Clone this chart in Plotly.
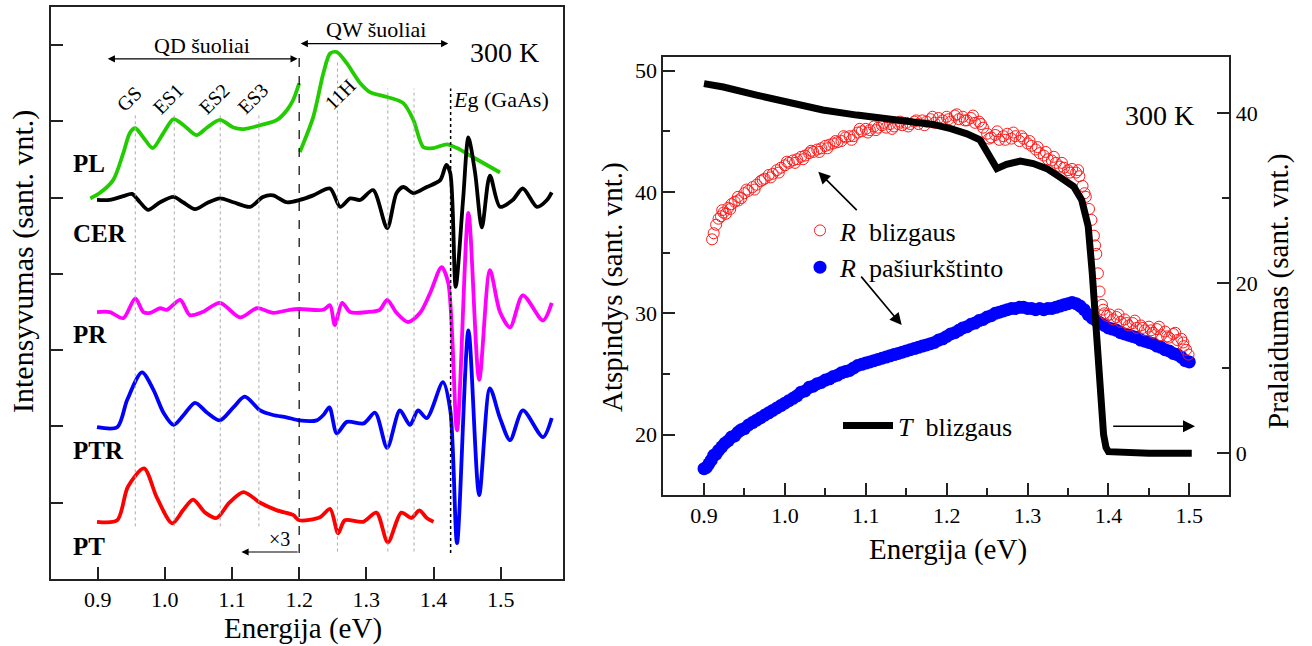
import plotly.graph_objects as go

FONT = "Liberation Serif"

# ---------------- Left panel: spectra (offset, arbitrary units) ----------------
pl_lo_e = [0.889, 0.903, 0.923, 0.938, 0.948, 0.956, 0.968, 0.982, 0.998, 1.013, 1.028, 1.047,
           1.063, 1.082, 1.102, 1.117, 1.142, 1.167, 1.182, 1.191, 1.2]
pl_lo_i = [4.99, 5.06, 5.23, 5.58, 5.85, 5.91, 5.79, 5.65, 5.85, 6.03, 5.95, 5.82,
           5.92, 6.02, 5.92, 5.90, 5.95, 6.02, 6.15, 6.28, 6.50]
pl_hi_e = [1.201, 1.221, 1.236, 1.246, 1.256, 1.271, 1.291, 1.306, 1.331, 1.355, 1.37, 1.385,
           1.4, 1.42, 1.435, 1.459, 1.499]
pl_hi_i = [5.60, 6.06, 6.63, 6.89, 6.91, 6.76, 6.50, 6.38, 6.32, 6.24, 6.02, 5.66,
           5.65, 5.70, 5.65, 5.53, 5.33]

cer_e = [0.899, 0.918, 0.938, 0.951, 0.963, 0.975, 0.993, 1.013, 1.027, 1.045, 1.063, 1.082,
         1.102, 1.127, 1.146, 1.161, 1.181, 1.201, 1.221, 1.246, 1.261, 1.276, 1.291, 1.31,
         1.331, 1.345, 1.355, 1.37, 1.39, 1.41, 1.419, 1.425, 1.433, 1.444, 1.452, 1.462,
         1.472, 1.484, 1.499, 1.518, 1.533, 1.554, 1.569, 1.576]
cer_i = [4.97, 4.97, 5.02, 5.05, 4.94, 4.84, 4.94, 5.01, 4.94, 4.85, 4.93, 4.99,
         4.94, 4.88, 5.01, 5.03, 4.94, 4.97, 5.03, 5.12, 4.88, 4.99, 4.97, 5.10,
         4.60, 5.06, 5.14, 5.06, 5.14, 5.23, 5.43, 5.32, 3.83, 4.97, 5.79, 5.32,
         4.61, 5.29, 4.88, 4.97, 5.12, 4.88, 4.97, 5.07]

pr_e = [0.899, 0.918, 0.938, 0.956, 0.968, 0.978, 0.993, 1.003, 1.023, 1.037, 1.056, 1.082,
        1.112, 1.137, 1.161, 1.186, 1.2, 1.236, 1.246, 1.253, 1.264, 1.276, 1.301, 1.32,
        1.331, 1.345, 1.362, 1.38, 1.395, 1.412, 1.422, 1.435, 1.452, 1.468, 1.484, 1.499,
        1.514, 1.533, 1.563, 1.576]
pr_i = [3.50, 3.50, 3.42, 3.68, 3.50, 3.49, 3.55, 3.53, 3.66, 3.46, 3.50, 3.62,
        3.43, 3.55, 3.49, 3.53, 3.54, 3.53, 3.59, 3.33, 3.62, 3.50, 3.50, 3.53,
        3.66, 3.49, 3.37, 3.49, 3.75, 4.09, 3.88, 1.95, 4.80, 2.61, 4.05, 3.50,
        3.30, 3.72, 3.39, 3.62]

ptr_e = [0.899, 0.929, 0.944, 0.966, 0.983, 0.998, 1.013, 1.028, 1.045, 1.063, 1.082, 1.102,
         1.119, 1.142, 1.161, 1.181, 1.2, 1.226, 1.236, 1.245, 1.256, 1.271, 1.296, 1.313,
         1.331, 1.35, 1.365, 1.377, 1.39, 1.414, 1.425, 1.435, 1.452, 1.468, 1.484, 1.499,
         1.514, 1.533, 1.563, 1.576]
ptr_i = [1.99, 1.99, 2.35, 2.71, 2.48, 2.18, 2.02, 2.15, 2.31, 2.18, 2.08, 2.25,
         2.39, 2.21, 2.15, 2.12, 2.08, 2.08, 2.15, 2.25, 1.91, 2.06, 2.04, 2.18,
         1.72, 2.21, 2.02, 2.21, 2.11, 2.58, 2.21, 0.47, 3.26, 1.10, 2.50, 2.11,
         1.82, 2.21, 1.86, 2.11]

pt_e = [0.899, 0.929, 0.945, 0.969, 0.988, 1.011, 1.027, 1.042, 1.06, 1.077, 1.096, 1.117,
        1.142, 1.167, 1.191, 1.2, 1.231, 1.246, 1.258, 1.268, 1.295, 1.315, 1.332, 1.352,
        1.367, 1.379, 1.39, 1.4]
pt_i = [0.75, 0.77, 1.21, 1.45, 1.07, 0.73, 0.90, 1.04, 0.87, 0.80, 1.00, 1.14,
        1.00, 0.90, 0.84, 0.77, 0.81, 0.92, 0.60, 0.77, 0.75, 0.87, 0.48, 0.87,
        0.80, 0.90, 0.80, 0.75]

spectra_names = ["PL", "CER", "PR", "PTR", "PT"]
label_levels = [5.45, 4.53, 3.20, 1.69, 0.43]

qd_lines = [0.956, 1.014, 1.0825, 1.14]
qd_labels = ["GS", "ES1", "ES2", "ES3"]
qw_lines = [1.257, 1.332, 1.371]
qw_label = "11H"
eg_energy = 1.4255
split_energy = 1.2

# ---------------- Right panel: reflectance / transmittance ----------------
rb_e = [0.910, 0.912, 0.915, 0.918, 0.921, 0.924, 0.927, 0.930, 0.934, 0.938, 0.942, 0.946,
        0.950, 0.955, 0.960, 0.965, 0.970, 0.975, 0.980, 0.985, 0.990, 0.995, 1.000, 1.005,
        1.010, 1.015, 1.020, 1.025, 1.030, 1.035, 1.040, 1.045, 1.050, 1.055, 1.060, 1.065,
        1.070, 1.075, 1.080, 1.085, 1.090, 1.095, 1.100, 1.105, 1.110, 1.115, 1.120, 1.125,
        1.130, 1.135, 1.140, 1.145, 1.150, 1.155, 1.160, 1.165, 1.170, 1.175, 1.180, 1.185,
        1.190, 1.195, 1.200, 1.205, 1.210, 1.215, 1.220, 1.225, 1.230, 1.235, 1.240, 1.245,
        1.250, 1.255, 1.260, 1.265, 1.270, 1.275, 1.280, 1.285, 1.290, 1.295, 1.300, 1.305,
        1.310, 1.315, 1.320, 1.325, 1.330, 1.335, 1.340, 1.345, 1.350, 1.355, 1.360, 1.364,
        1.368, 1.372, 1.376, 1.379, 1.382, 1.385, 1.387, 1.389, 1.392, 1.395, 1.398, 1.402,
        1.406, 1.410, 1.415, 1.420, 1.425, 1.430, 1.435, 1.440, 1.445, 1.450, 1.455, 1.460,
        1.465, 1.470, 1.475, 1.480, 1.485, 1.490, 1.493, 1.496, 1.499,
        0.9225, 0.9325, 0.9425, 0.9525, 0.9625, 0.9725, 0.9825, 0.9925, 1.0025, 1.0125,
        1.0225, 1.0325, 1.0425, 1.0525, 1.0625, 1.0725, 1.0825, 1.0925, 1.1025, 1.1125,
        1.1225, 1.1325, 1.1425, 1.1525, 1.1625, 1.1725, 1.1825, 1.1925, 1.2025, 1.2125,
        1.2225, 1.2325, 1.2425, 1.2525, 1.2625, 1.2725, 1.2825, 1.2925, 1.3025, 1.3125,
        1.3225, 1.3325, 1.3425, 1.3525, 1.3625, 1.3705, 1.3835, 1.3935, 1.4125, 1.4225,
        1.4325, 1.4425, 1.4525, 1.4625, 1.4725, 1.4825, 1.4925]
rb_r = [36.1, 36.6, 37.3, 37.8, 38.0, 38.3, 38.2, 38.7, 39.0, 39.2, 39.6, 39.5,
        39.9, 40.1, 40.4, 40.6, 40.9, 41.1, 41.4, 41.5, 41.8, 42.0, 42.2, 42.4,
        42.6, 42.7, 42.9, 43.0, 43.2, 43.3, 43.5, 43.6, 43.8, 43.9, 44.0, 44.1,
        44.2, 44.5, 44.6, 44.6, 44.9, 45.0, 45.2, 45.1, 45.4, 45.3, 45.5, 45.3,
        45.6, 45.4, 45.6, 45.5, 45.7, 45.6, 45.8, 45.6, 45.9, 45.8, 46.0, 45.7,
        46.1, 45.9, 46.2, 45.8, 46.3, 46.0, 46.2, 45.9, 46.1, 45.7, 45.8, 45.3,
        44.8, 44.5, 44.7, 44.3, 44.6, 44.8, 44.4, 44.6, 44.2, 44.4, 44.0, 43.8,
        43.5, 43.2, 43.0, 42.7, 42.6, 42.4, 42.1, 42.0, 41.8, 41.9, 41.6, 41.3,
        40.5, 39.6, 38.6, 37.7, 36.4, 34.9, 33.3, 31.8, 30.7, 30.0, 29.8, 29.9,
        29.5, 29.7, 29.3, 29.5, 29.0, 29.2, 28.8, 29.0, 28.6, 28.9, 28.4, 28.7,
        28.2, 28.5, 28.0, 28.3, 27.8, 27.9, 27.3, 27.0, 26.6,
        38.5, 38.6, 39.3, 40.2, 40.2, 41.0, 41.2, 41.6, 42.5, 42.4,
        42.7, 43.4, 43.3, 43.6, 44.2, 44.6, 44.3, 45.2, 44.9, 45.1,
        45.7, 45.2, 45.8, 45.4, 45.9, 45.5, 46.2, 45.7, 46.0, 46.4,
        45.9, 46.3, 45.6, 44.4, 45.0, 44.3, 44.9, 44.6, 44.2, 43.7,
        43.3, 42.9, 42.4, 41.6, 41.8, 39.9, 35.6, 30.3, 29.9, 29.2,
        29.4, 28.8, 28.6, 28.9, 28.1, 28.4, 27.6]

rp_e = [0.900, 0.903, 0.906, 0.909, 0.912, 0.915, 0.918, 0.922, 0.926, 0.930, 0.934, 0.938,
        0.942, 0.946, 0.950, 0.955, 0.960, 0.965, 0.970, 0.975, 0.980, 0.985, 0.990, 0.995,
        1.000, 1.005, 1.010, 1.015, 1.020, 1.025, 1.030, 1.035, 1.040, 1.045, 1.050, 1.055,
        1.060, 1.065, 1.070, 1.075, 1.080, 1.085, 1.090, 1.095, 1.100, 1.105, 1.110, 1.115,
        1.120, 1.125, 1.130, 1.135, 1.140, 1.145, 1.150, 1.155, 1.160, 1.165, 1.170, 1.175,
        1.180, 1.185, 1.190, 1.195, 1.200, 1.205, 1.210, 1.215, 1.220, 1.225, 1.230, 1.235,
        1.240, 1.245, 1.250, 1.255, 1.260, 1.265, 1.270, 1.275, 1.280, 1.285, 1.290, 1.295,
        1.300, 1.305, 1.310, 1.315, 1.320, 1.325, 1.330, 1.335, 1.340, 1.345, 1.350, 1.355,
        1.360, 1.365, 1.370, 1.375, 1.380, 1.385, 1.390, 1.395, 1.400, 1.405, 1.410, 1.415,
        1.420, 1.425, 1.430, 1.435, 1.440, 1.445, 1.450, 1.455, 1.460, 1.465, 1.470, 1.475,
        1.480, 1.485, 1.490, 1.495, 1.500]
rp_r = [17.2, 17.3, 17.6, 17.9, 18.3, 18.4, 18.7, 19.0, 19.3, 19.5, 19.8, 19.9,
        20.2, 20.4, 20.5, 20.8, 21.0, 21.2, 21.4, 21.6, 21.8, 22.0, 22.2, 22.4,
        22.6, 22.8, 23.0, 23.2, 23.5, 23.6, 23.9, 24.0, 24.2, 24.3, 24.5, 24.6,
        24.8, 24.9, 25.1, 25.2, 25.3, 25.5, 25.7, 25.8, 25.9, 26.0, 26.1, 26.2,
        26.3, 26.4, 26.5, 26.6, 26.7, 26.8, 26.9, 27.0, 27.1, 27.2, 27.3, 27.4,
        27.5, 27.6, 27.8, 27.9, 28.1, 28.3, 28.4, 28.6, 28.8, 28.9, 29.1, 29.2,
        29.4, 29.5, 29.7, 29.8, 30.0, 30.1, 30.2, 30.3, 30.4, 30.4, 30.5, 30.5,
        30.4, 30.4, 30.3, 30.4, 30.3, 30.4, 30.4, 30.5, 30.6, 30.7, 30.8, 30.9,
        30.8, 30.6, 30.3, 29.9, 29.6, 29.4, 29.2, 29.0, 28.8, 28.7, 28.6, 28.4,
        28.3, 28.2, 28.1, 28.0, 27.8, 27.7, 27.6, 27.5, 27.3, 27.2, 27.0, 26.9,
        26.7, 26.6, 26.4, 26.1, 26.0]

tb_e = [0.900, 0.924, 0.965, 1.006, 1.047, 1.089, 1.130, 1.171, 1.183, 1.205, 1.225, 1.241,
        1.251, 1.262, 1.274, 1.291, 1.307, 1.324, 1.340, 1.357, 1.367, 1.375, 1.380, 1.385,
        1.389, 1.392, 1.394, 1.397, 1.400, 1.450, 1.503]
tb_t = [43.5, 43.1, 42.15, 41.2, 40.4, 39.8, 39.4, 39.0, 38.7, 38.2, 37.6, 36.9,
        35.3, 33.5, 34.0, 34.4, 34.1, 33.5, 32.5, 31.4, 29.8, 26.7, 21.2, 14.1,
        10.2, 4.3, 2.2, 0.7, 0.2, 0.0, 0.0]

# ---------------- Figure ----------------
fig = go.Figure()

line_w = 3.8
left_traces = [
    (pt_e, pt_i, "#ff0000", "PT"),
    (ptr_e, ptr_i, "#0000ff", "PTR"),
    (pr_e, pr_i, "#ff00ff", "PR"),
    (pl_lo_e, pl_lo_i, "#22cc00", "PL"),
    (pl_hi_e, pl_hi_i, "#22cc00", "PL"),
    (cer_e, cer_i, "#000000", "CER"),
]
for xs, ys, col, nm in left_traces:
    fig.add_trace(go.Scatter(x=xs, y=ys, mode="lines", name=nm, showlegend=False,
                             line=dict(color=col, width=line_w, shape="spline", smoothing=0.8),
                             xaxis="x", yaxis="y"))

fig.add_trace(go.Scatter(x=rp_e, y=rp_r, mode="markers", name="<i>R</i>\u00a0 pašiurkštinto",
                         legend="legend", legendrank=2,
                         marker=dict(symbol="circle", size=13, color="#0000ff"),
                         xaxis="x2", yaxis="y2"))
fig.add_trace(go.Scatter(x=rb_e, y=rb_r, mode="markers", name="<i>R</i>\u00a0 blizgaus",
                         legend="legend", legendrank=1,
                         marker=dict(symbol="circle-open", size=11, color="#ff1a1a",
                                     line=dict(width=1)),
                         xaxis="x2", yaxis="y2"))
fig.add_trace(go.Scatter(x=tb_e, y=tb_t, mode="lines", name="<i>T</i>\u00a0 blizgaus",
                         legend="legend2",
                         line=dict(color="#000000", width=7),
                         xaxis="x2", yaxis="y3"))

# ---------------- Shapes (left panel guide lines) ----------------
shapes = []
for e in qd_lines:
    shapes.append(dict(type="line", xref="x", yref="y", x0=e, x1=e, y0=0.69, y1=6.1,
                       line=dict(color="#aaaaaa", width=1, dash="dot")))
for i, e in enumerate(qw_lines):
    shapes.append(dict(type="line", xref="x", yref="y", x0=e, x1=e, y0=0.36,
                       y1=6.8 if i == 0 else 6.43,
                       line=dict(color="#aaaaaa", width=1, dash="dot")))
shapes.append(dict(type="line", xref="x", yref="y", x0=eg_energy, x1=eg_energy, y0=0.34, y1=6.43,
                   line=dict(color="#000000", width=1.5, dash="dot")))
shapes.append(dict(type="line", xref="x", yref="y", x0=split_energy, x1=split_energy, y0=0.34, y1=6.83,
                   line=dict(color="#000000", width=1.2, dash="dash")))

# ---------------- Annotations ----------------
ann = []
tf = dict(family=FONT, color="black")

def txt(x, y, s, size, xref="x", yref="y", angle=0, xanchor="center"):
    ann.append(dict(x=x, y=y, xref=xref, yref=yref, text=s, showarrow=False, font=dict(tf, size=size),
                    textangle=angle, xanchor=xanchor, yanchor="middle"))

# curve labels
for nm, lv in zip(spectra_names, label_levels):
    txt(0.861, lv, "<b>" + nm + "</b>", 25, xanchor="left")

# QD / QW double arrows
ann.append(dict(x=0.915, y=6.82, ax=split_energy, ay=6.82, xref="x", yref="y", axref="x", ayref="y",
                text="", showarrow=True, arrowhead=2, startarrowhead=2, arrowside="end+start",
                arrowsize=1.2, arrowwidth=1.2, arrowcolor="black"))
ann.append(dict(x=1.422, y=7.02, ax=split_energy, ay=7.02, xref="x", yref="y", axref="x", ayref="y",
                text="", showarrow=True, arrowhead=2, startarrowhead=2, arrowside="end+start",
                arrowsize=1.2, arrowwidth=1.2, arrowcolor="black"))
txt(1.055, 7.0, "QD šuoliai", 22)
txt(1.315, 7.21, "QW šuoliai", 22)
txt(1.506, 6.91, "300 K", 28)

for e, lab in zip(qd_lines, qd_labels):
    txt(e - 0.01, 6.30, lab, 20, angle=-45)
txt(qw_lines[0] + 0.004, 6.36, qw_label, 20, angle=-45)
txt(eg_energy, 6.29, "<i>E</i>g (GaAs)", 22, xanchor="left")

# x3 arrow
ann.append(dict(x=1.114, y=0.354, ax=split_energy, ay=0.354, xref="x", yref="y", axref="x", ayref="y",
                text="", showarrow=True, arrowhead=2, arrowsize=1.2, arrowwidth=1.2, arrowcolor="black"))
txt(1.171, 0.52, "×3", 20)

# right panel arrows and text
for (hx, hy, tx, ty) in [(1.0413, 41.67, 1.0907, 38.38), (1.1444, 29.03, 1.0928, 33.15),
                         (1.507, 20.69, 1.404, 20.69)]:
    ann.append(dict(x=hx, y=hy, ax=tx, ay=ty, xref="x2", yref="y2", axref="x2", ayref="y2",
                    text="", showarrow=True, arrowhead=2, arrowsize=1.5, arrowwidth=1.6,
                    arrowcolor="black"))
txt(1.4637, 46.34, "300 K", 28, xref="x2", yref="y2")

# axis titles
txt(23 / 1312, 1 - 262 / 646, "Intensyvumas (sant. vnt.)", 30, xref="paper", yref="paper", angle=-90)
txt(303 / 1312, 1 - 628 / 646, "Energija (eV)", 29, xref="paper", yref="paper")
txt(948 / 1312, 1 - 549 / 646, "Energija (eV)", 29, xref="paper", yref="paper")
txt(612 / 1312, 1 - 287 / 646, "Atspindys (sant. vnt.)", 29, xref="paper", yref="paper", angle=-90)
txt(1278 / 1312, 1 - 292 / 646, "Pralaidumas (sant. vnt.)", 29, xref="paper", yref="paper", angle=-90)

axis_common = dict(showline=True, linecolor="#222222", linewidth=2, mirror=True, showgrid=False,
                   zeroline=False, ticks="inside", tickcolor="#222222", tickwidth=1.5,
                   tickfont=dict(family=FONT, size=22, color="black"))

fig.update_layout(
    width=1312, height=646, margin=dict(l=0, r=0, t=0, b=0),
    paper_bgcolor="white", plot_bgcolor="white",
    font=dict(family=FONT, color="black"),
    shapes=shapes, annotations=ann,
    xaxis=dict(axis_common, domain=[51 / 1312, 563 / 1312], range=[0.8305, 1.5928],
               tick0=0.9, dtick=0.1, tickformat=".1f", ticklen=12, anchor="y"),
    yaxis=dict(axis_common, domain=[67 / 646, 639 / 646], range=[0, 7.5],
               tick0=0, dtick=1, ticklen=12, showticklabels=False, anchor="x"),
    xaxis2=dict(axis_common, domain=[663.3 / 1312, 1229.3 / 1312], range=[0.8497, 1.5494],
                tick0=0.9, dtick=0.1, tickformat=".1f", ticklen=12, anchor="y2",
                minor=dict(dtick=0.05, tick0=0.9, ticklen=7, ticks="inside", tickcolor="#222222", tickwidth=1.5)),
    yaxis2=dict(axis_common, domain=[151 / 646, 588.7 / 646], range=[15.03, 51.1],
                tick0=0, dtick=10, ticklen=12, anchor="x2",
                minor=dict(dtick=5, tick0=0, ticklen=7, ticks="inside", tickcolor="#222222", tickwidth=1.5)),
    yaxis3=dict(axis_common, overlaying="y2", anchor="x2", side="right", range=[-4.9, 46.6],
                tick0=0, dtick=20, ticklen=12, mirror=False,
                minor=dict(dtick=10, tick0=0, ticklen=7, ticks="inside", tickcolor="#222222", tickwidth=1.5)),
    legend=dict(x=800 / 1312, y=1 - 207 / 646, xanchor="left", yanchor="top", bgcolor="rgba(0,0,0,0)",
                font=dict(family=FONT, size=26, color="black"), itemwidth=30, tracegroupgap=0),
    legend2=dict(x=838 / 1312, y=1 - 402 / 646, xanchor="left", yanchor="top", bgcolor="rgba(0,0,0,0)",
                 font=dict(family=FONT, size=26, color="black"), itemwidth=50),
)

fig.write_html("out.html")
